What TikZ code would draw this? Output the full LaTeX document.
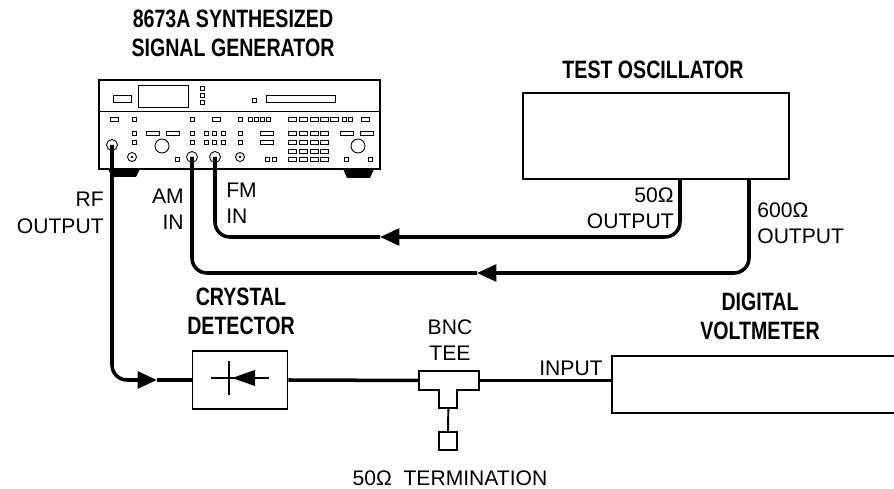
\documentclass[tikz,border=0pt]{standalone}
\usepackage{fontspec}
\setmainfont{Liberation Sans}
\newfontfamily\headfont[FakeStretch=0.78]{Liberation Sans}
\usetikzlibrary{arrows.meta}

\begin{document}
\begin{tikzpicture}[x=0.02cm, y=-0.02cm,
    cable/.style={line width=2pt, rounded corners=3mm},
    arrowed/.style={-{Triangle[length=11pt,width=9.5pt]}},
    box/.style={draw, line width=1.1pt, inner sep=0pt},
    ctrl/.style={line width=0.5pt},
    heading/.style={font=\headfont\bfseries\fontsize{14.3}{16.4}\selectfont, align=center, inner sep=0pt},
    txt/.style={font=\fontsize{12}{15}\selectfont, inner sep=0pt}]
    \useasboundingbox (0,0) rectangle (894,489);
    \clip (0,0) rectangle (894,489);

    % Headings
    \node[heading] (genname) at (233,33) {8673A SYNTHESIZED\\SIGNAL GENERATOR};
    \node[heading] (oscname) at (653,70) {TEST OSCILLATOR};
    \node[heading] (detname) at (241,311) {CRYSTAL\\DETECTOR};
    \node[heading] (dvmname) at (760,316) {DIGITAL\\VOLTMETER};

    % Signal generator cabinet
    \draw[line width=0.9pt] (99,80) rectangle (380,169);
    \draw[ctrl] (99,111) -- (380,111);
    \fill (108,169) -- (140,169) -- (136,177) -- (112,177) -- cycle;
    \fill (343,169) -- (374,169) -- (370,178) -- (347,178) -- cycle;

    % Display section
    \draw[ctrl] (113,95) rectangle (131,102);
    \draw[ctrl] (138,85) rectangle (188,107);
    \foreach \y in {86,93,100}
        \draw[ctrl] (200,\y) rectangle ++(4,4);
    \draw[ctrl] (252,98) rectangle ++(4,4);
    \draw[ctrl] (266,95) rectangle (335,102);

    % Keys
    \foreach \x/\y in {132/117,190/117,238/117,248/117,254/117,260/117,266/117,342/117,348/117,
                       132/131,190/131,204/131,212/131,221/131,238/131,
                       132/140,190/140,204/140,212/140,221/140,238/140,
                       175/157,265/157,272/157,344/157,368/157}
        \draw[ctrl] (\x,\y) rectangle ++(4,4);
    \foreach \x/\y in {110/117,212/117,288/117,299/117,310/117,320/117,330/117,361/117,
                       288/131,299/131,310/131,320/131,
                       288/140,299/140,310/140,320/140,
                       288/149,299/149,310/149,320/149,
                       288/157,299/157,310/157,320/157}
        \draw[ctrl] (\x,\y) rectangle ++(8,4);
    \foreach \x/\y in {146/131,166/131,260/131,340/131,360/131,260/140}
        \draw[ctrl] (\x,\y) rectangle ++(13,4);

    % Knobs and sockets
    \draw[ctrl] (162,146) circle[radius=7];
    \draw[ctrl] (358,146) circle[radius=7];
    \foreach \x in {132,240} {
        \draw[ctrl] (\x,157) circle[radius=4.5];
        \fill (\x,157) circle[radius=1.3];
    }
    \foreach \c/\x/\y in {rfout/112/145,amin/192/157,fmin/215/157} {
        \draw[ctrl, fill=white] (\x,\y) circle[radius=5.5];
        \coordinate (\c) at (\x,\y);
    }

    % Instruments
    \node[box, minimum width=53.2mm, minimum height=17.2mm] (osc) at (656,136) {};
    \node[box, minimum width=19mm, minimum height=11.6mm] (det) at (240,380) {};
    \node[box, minimum width=66mm, minimum height=11.4mm] (dvm) at (777,384.5) {};

    % Diode symbol
    \begin{scope}[shift={(det.center)}]
        \draw[line width=1pt] (-29,-2) -- (29,-2);
        \draw[line width=1pt] (-11,-19) -- (-11,15);
        \fill (-8,-2) -- (15,-10) -- (15,6) -- cycle;
    \end{scope}

    % BNC tee and termination
    \node[inner sep=0pt, minimum width=12mm, minimum height=3.8mm] (tee) at (449,380.5) {};
    \draw[line width=1.1pt] (tee.north west) -- (tee.north east) -- (tee.south east)
        -- ++(-22,0) -- ++(0,18) -- ++(-9,0) coordinate (stem) -- ++(-9,0) -- ++(0,-18)
        -- (tee.south west) -- cycle;
    \node[box, minimum size=3.6mm] (term) at (448,441) {};
    \draw[line width=1.1pt] (stem) -- (term.north);

    % Cables
    \coordinate (o50) at (680,179);
    \coordinate (o600) at (749,179);
    \coordinate (fmarr) at (380,237);
    \coordinate (amarr) at (477,273);
    \coordinate (rfarr) at (157,380);
    \draw[cable, arrowed] (o50) |- (fmarr);
    \draw[cable] (fmarr) -| (fmin);
    \draw[cable, arrowed] (o600) |- (amarr);
    \draw[cable] (amarr) -| (amin);
    \draw[cable, arrowed] (rfout) |- (rfarr);
    \draw[cable] (rfarr) -- (det.west);
    \draw[cable] (det.east) -- (tee.west);
    \draw[cable] (tee.east) -- (tee.east -| dvm.west);

    % Labels
    \node[txt, anchor=east, align=right] (rflbl) at (104,213) {RF\\OUTPUT};
    \node[txt, anchor=east, align=right] (amlbl) at (184,209) {AM\\IN};
    \node[txt, anchor=west, align=left] (fmlbl) at (226,203) {FM\\IN};
    \node[txt, anchor=east, align=right] (o50lbl) at (674,208) {50Ω\\OUTPUT};
    \node[txt, anchor=west, align=left] (o600lbl) at (757,223) {600Ω\\OUTPUT};
    \node[txt, align=center] (teelbl) at (450,340) {BNC\\TEE};
    \node[txt] (inlbl) at (571,368) {INPUT};
    \node[txt] (termlbl) at (450,478) {50Ω\ \ TERMINATION};
\end{tikzpicture}
\end{document}
